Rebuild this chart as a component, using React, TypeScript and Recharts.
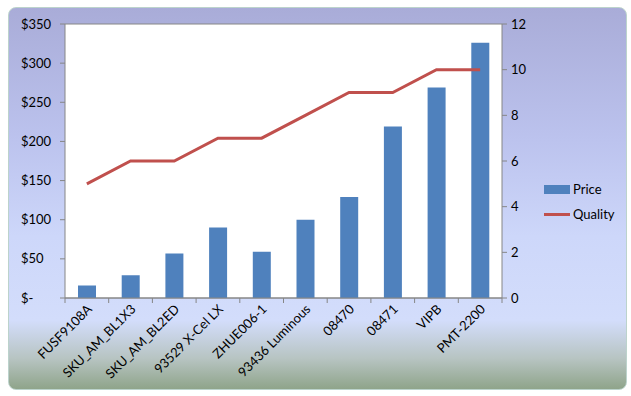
import React from "react";
import {
  ComposedChart,
  Bar,
  Line,
  XAxis,
  YAxis,
  CartesianGrid,
} from "recharts";

const products = [
  "FUSF9108A",
  "SKU_AM_BL1X3",
  "SKU_AM_BL2ED",
  "93529 X-Cel LX",
  "ZHUE006-1",
  "93436 Luminous",
  "08470",
  "08471",
  "VIPB",
  "PMT-2200",
];
const price = [16, 29, 57, 90, 59, 100, 129, 219, 269, 326];
const quality = [5, 6, 6, 7, 7, 8, 9, 9, 10, 10];
const priceTicks = [0, 50, 100, 150, 200, 250, 300, 350];
const qualityTicks = [0, 2, 4, 6, 8, 10, 12];

const data = products.map((name, i) => ({
  name,
  Price: price[i],
  Quality: quality[i],
}));

const FONT = "Lato, 'Open Sans', sans-serif";
const AXIS = "#868686";

const PriceTick = (props: any) => {
  const { y, payload } = props;
  const v = payload.value;
  return (
    <text x={12} y={y + 4.5} fontSize={13} fontFamily={FONT} fill="#000" textAnchor="start">
      {v === 0 ? "$-" : `$${v}`}
    </text>
  );
};

const CatTick = (props: any) => {
  const { x, y, payload } = props;
  const off = payload.offset || 0;
  return (
    <g>
      <line x1={x - off} x2={x - off} y1={y - 8} y2={y - 3} stroke={AXIS} />
      {payload.index === products.length - 1 && (
        <line x1={x + off} x2={x + off} y1={y - 8} y2={y - 3} stroke={AXIS} />
      )}
      <text
        x={x + 6}
        y={y + 4}
        transform={`rotate(-45, ${x + 6}, ${y + 4})`}
        textAnchor="end"
        fontSize={13}
        fontFamily={FONT}
        fill="#000"
      >
        {payload.value}
      </text>
    </g>
  );
};

const LegendBox = () => (
  <div
    style={{
      position: "absolute",
      left: 535,
      top: 172,
      fontFamily: FONT,
      fontSize: 13,
      color: "#000",
    }}
  >
    <div style={{ display: "flex", alignItems: "center", height: 18 }}>
      <span style={{ width: 26, height: 9, background: "#4F81BD", marginRight: 3 }} />
      Price
    </div>
    <div style={{ display: "flex", alignItems: "center", height: 18, marginTop: 7 }}>
      <span style={{ width: 26, height: 3, background: "#C0504D", marginRight: 3 }} />
      Quality
    </div>
  </div>
);

export default function App() {
  return (
    <div
      style={{
        position: "absolute",
        left: 0,
        top: 0,
        width: 631,
        height: 396,
        background: "#fff",
      }}
    >
      <div
        style={{
          position: "absolute",
          left: 8,
          top: 7,
          width: 617,
          height: 381,
          borderRadius: 8,
          border: "1px solid #bcd3cc",
          overflow: "hidden",
          background:
            "linear-gradient(180deg, #a9acd8 0%, #bcc3ee 35%, #cdd7fa 60%, #d3ddfb 82%, #b7c4c2 92%, #8fa48a 100%)",
        }}
      >
        <ComposedChart
          width={617}
          height={381}
          data={data}
          margin={{ top: 16, right: 84, left: 0, bottom: 0 }}
        >
          <CartesianGrid vertical={false} stroke={AXIS} strokeWidth={1} fill="#fff" />
          <XAxis
            dataKey="name"
            interval={0}
            height={91}
            axisLine={{ stroke: AXIS }}
            tickLine={false}
            tick={<CatTick />}
          />
          <YAxis
            yAxisId="price"
            orientation="left"
            domain={[0, 350]}
            ticks={priceTicks}
            width={56}
            axisLine={{ stroke: AXIS }}
            tickLine={{ stroke: AXIS }}
            tickSize={5}
            tick={<PriceTick />}
          />
          <YAxis
            yAxisId="quality"
            orientation="right"
            domain={[0, 12]}
            ticks={qualityTicks}
            width={40}
            axisLine={{ stroke: AXIS }}
            tickLine={{ stroke: AXIS }}
            tickSize={5}
            tick={{ fontSize: 13, fontFamily: FONT, fill: "#000", textAnchor: "start", dx: 2 }}
          />
          <Bar
            yAxisId="price"
            dataKey="Price"
            fill="#4F81BD"
            barSize={18}
            isAnimationActive={false}
          />
          <Line
            yAxisId="quality"
            dataKey="Quality"
            type="linear"
            stroke="#C0504D"
            strokeWidth={3}
            dot={false}
            activeDot={false}
            isAnimationActive={false}
          />
        </ComposedChart>
        <LegendBox />
      </div>
    </div>
  );
}
